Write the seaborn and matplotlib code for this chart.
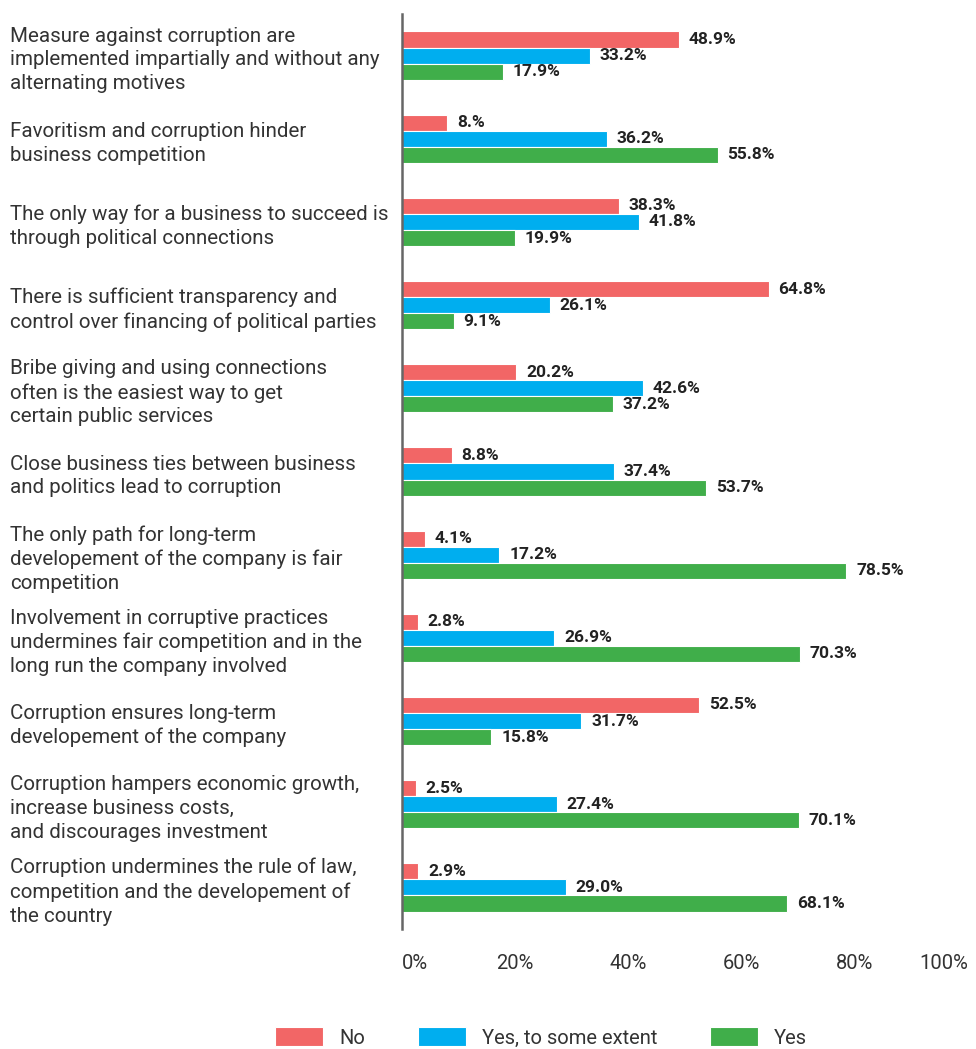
import matplotlib
matplotlib.use("Agg")
import matplotlib.pyplot as plt
import seaborn as sns
import pandas as pd

categories = [
    "Measure against corruption are\nimplemented impartially and without any\nalternating motives",
    "Favoritism and corruption hinder\nbusiness competition",
    "The only way for a business to succeed is\nthrough political connections",
    "There is sufficient transparency and\ncontrol over financing of political parties",
    "Bribe giving and using connections\noften is the easiest way to get\ncertain public services",
    "Close business ties between business\nand politics lead to corruption",
    "The only path for long-term\ndevelopement of the company is fair\ncompetition",
    "Involvement in corruptive practices\nundermines fair competition and in the\nlong run the company involved",
    "Corruption ensures long-term\ndevelopement of the company",
    "Corruption hampers economic growth,\nincrease business costs,\nand discourages investment",
    "Corruption undermines the rule of law,\ncompetition and the developement of\nthe country",
]
series_names = ["No", "Yes, to some extent", "Yes"]
no_vals = [48.9, 8.0, 38.3, 64.8, 20.2, 8.8, 4.1, 2.8, 52.5, 2.5, 2.9]
some_vals = [33.2, 36.2, 41.8, 26.1, 42.6, 37.4, 17.2, 26.9, 31.7, 27.4, 29.0]
yes_vals = [17.9, 55.8, 19.9, 9.1, 37.2, 53.7, 78.5, 70.3, 15.8, 70.1, 68.1]
label_overrides = {8.0: "8.%"}
x_ticks = [0, 20, 40, 60, 80, 100]
x_tick_labels = ["0%", "20%", "40%", "60%", "80%", "100%"]
colors = ["#F26666", "#00AEEF", "#40AE4A"]

rows = []
for name, vals in zip(series_names, [no_vals, some_vals, yes_vals]):
    for c, v in zip(categories, vals):
        rows.append({"category": c, "series": name, "value": v})
df = pd.DataFrame(rows)

sns.set_theme(style="white")
plt.rcParams["font.family"] = ["Roboto", "DejaVu Sans"]

fig = plt.figure(figsize=(9.76, 10.49), dpi=100)
ax = fig.add_axes([402 / 976, 1 - 929 / 1049, 566 / 976, 915 / 1049])

sns.barplot(data=df, y="category", x="value", hue="series", order=categories,
            hue_order=series_names, palette=colors, orient="h", width=0.58,
            edgecolor="white", linewidth=0.8, saturation=1, ax=ax, legend=True)

for cont, vals in zip(ax.containers, [no_vals, some_vals, yes_vals]):
    labels = [label_overrides.get(v, f"{v:.1f}%") for v in vals]
    ax.bar_label(cont, labels=labels, padding=7, fontsize=12.5,
                 fontweight="bold", color="#222222")

ax.set_xlim(0, 100)
ax.set_ylim(len(categories) - 0.5, -0.5)
ax.set_xticks(x_ticks)
ax.set_xticklabels(x_tick_labels, fontsize=14.5, color="#333333")
tl = ax.get_xticklabels()
tl[-1].set_horizontalalignment("right")
tl[0].set_horizontalalignment("left")
ax.tick_params(axis="x", length=0, pad=18)
ax.set_yticks(range(len(categories)))
ax.set_yticklabels(categories, fontsize=14.8, color="#333333", ha="left",
                   linespacing=1.32)
ax.tick_params(axis="y", length=0, pad=392 * 72 / 100)
ax.set_yticks([i + 0.5 for i in range(len(categories) - 1)], minor=True)
ax.tick_params(axis="y", which="minor", length=2, color="#dddddd", width=1)
ax.set_xlabel("")
ax.set_ylabel("")
for s in ["top", "right", "bottom"]:
    ax.spines[s].set_visible(False)
ax.spines["left"].set_color("#666666")
ax.spines["left"].set_linewidth(1.8)

ax.get_legend().remove()
handles, lbls = ax.get_legend_handles_labels()
fig.legend(handles, lbls, loc="lower center", bbox_to_anchor=(541 / 976, -0.016),
           ncol=3, frameon=False, fontsize=14.5, handlelength=2.4,
           handleheight=1.1, columnspacing=2.6, handletextpad=0.8,
           labelcolor="#333333")

fig.savefig("out.png", dpi=100)
